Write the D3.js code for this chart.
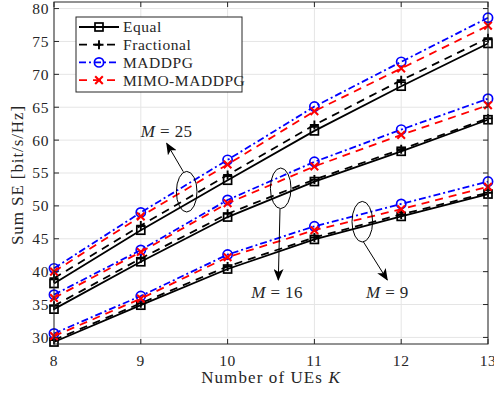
<!DOCTYPE html>
<html>
<head>
<meta charset="utf-8">
<script src="https://cdn.jsdelivr.net/npm/d3@7"></script>
<style>
  html, body { margin: 0; padding: 0; background: #fff; }
  svg { display: block; }
  text { font-family: "Liberation Serif", "DejaVu Serif", serif; fill: #262626; }
</style>
</head>
<body>
<svg id="chart" width="494" height="393"></svg>
<script>
// Number of UEs K
const numUEs = [8, 9, 10, 11, 12, 13];

// Sum SE [bit/s/Hz] for M = 25 antennas
const equalM25      = [38.2, 46.3, 53.9, 61.4, 68.2, 74.7];
const fractionalM25 = [39.0, 47.0, 54.7, 62.3, 69.1, 75.5];
const maddpgM25     = [40.5, 49.0, 57.0, 65.1, 71.9, 78.6];
const mimoM25       = [40.0, 48.4, 56.3, 64.4, 70.9, 77.4];

// M = 16
const equalM16      = [34.3, 41.5, 48.3, 53.7, 58.3, 63.1];
const fractionalM16 = [34.8, 42.0, 48.8, 54.0, 58.6, 63.3];
const maddpgM16     = [36.5, 43.3, 50.9, 56.7, 61.6, 66.3];
const mimoM16       = [36.0, 43.0, 50.4, 56.0, 60.8, 65.3];

// M = 9
const equalM9       = [29.3, 34.9, 40.4, 44.9, 48.4, 51.8];
const fractionalM9  = [29.6, 35.2, 40.8, 45.2, 48.7, 52.0];
const maddpgM9      = [30.6, 36.3, 42.6, 46.9, 50.3, 53.7];
const mimoM9        = [30.2, 35.9, 42.2, 46.3, 49.5, 52.9];

const yTicks = [30, 35, 40, 45, 50, 55, 60, 65, 70, 75, 80];
const legendNames = ["Equal", "Fractional", "MADDPG", "MIMO-MADDPG"];

(function () {
const svg = d3.select("#chart");
const pL = 54, pR = 488, pT = 2, pB = 344;

const x = d3.scaleLinear().domain([8, 13]).range([pL, pR]);
const y = d3.scaleLinear().domain([29, 81]).range([pB, pT]);

const axisColor = "#262626";

// grid
const grid = svg.append("g");
grid.selectAll("line.gx").data(numUEs).enter().append("line")
  .attr("x1", d => x(d)).attr("x2", d => x(d)).attr("y1", pT).attr("y2", pB)
  .attr("stroke", "#e5e5e5").attr("stroke-width", 1);
grid.selectAll("line.gy").data(yTicks).enter().append("line")
  .attr("x1", pL).attr("x2", pR).attr("y1", d => y(d)).attr("y2", d => y(d))
  .attr("stroke", "#e5e5e5").attr("stroke-width", 1);

// series styles
const styles = [
  { color: "#000000", dash: null,        marker: "square" },
  { color: "#000000", dash: "8,6",       marker: "plus" },
  { color: "#0000ff", dash: "7,3,2,3",   marker: "circle" },
  { color: "#ff0000", dash: "8,6",       marker: "cross" }
];

function drawMarker(g, type, cx, cy, color) {
  if (type === "square") {
    g.append("rect").attr("x", cx - 4).attr("y", cy - 4).attr("width", 8).attr("height", 8)
      .attr("fill", "none").attr("stroke", color).attr("stroke-width", 1.7);
  } else if (type === "plus") {
    g.append("path").attr("d", `M${cx-4.5},${cy}H${cx+4.5}M${cx},${cy-4.5}V${cy+4.5}`)
      .attr("stroke", color).attr("stroke-width", 1.9).attr("fill", "none");
  } else if (type === "circle") {
    g.append("circle").attr("cx", cx).attr("cy", cy).attr("r", 4.6)
      .attr("fill", "none").attr("stroke", color).attr("stroke-width", 1.7);
  } else if (type === "cross") {
    g.append("path").attr("d", `M${cx-3.8},${cy-3.8}L${cx+3.8},${cy+3.8}M${cx-3.8},${cy+3.8}L${cx+3.8},${cy-3.8}`)
      .attr("stroke", color).attr("stroke-width", 2.1).attr("fill", "none");
  }
}

const groups = [
  [equalM25, fractionalM25, maddpgM25, mimoM25],
  [equalM16, fractionalM16, maddpgM16, mimoM16],
  [equalM9,  fractionalM9,  maddpgM9,  mimoM9]
];

const line = d3.line().x((d, i) => x(numUEs[i])).y(d => y(d));
const plot = svg.append("g");
groups.forEach(group => {
  group.forEach((vals, si) => {
    const st = styles[si];
    plot.append("path").datum(vals).attr("d", line)
      .attr("fill", "none").attr("stroke", st.color).attr("stroke-width", 1.8)
      .attr("stroke-dasharray", st.dash);
    vals.forEach((v, i) => drawMarker(plot, st.marker, x(numUEs[i]), y(v), st.color));
  });
});

// axes box with inward ticks
const axes = svg.append("g");
axes.append("rect").attr("x", pL).attr("y", pT).attr("width", pR - pL).attr("height", pB - pT)
  .attr("fill", "none").attr("stroke", axisColor).attr("stroke-width", 1);
const tl = 5;
numUEs.forEach(k => {
  axes.append("line").attr("x1", x(k)).attr("x2", x(k)).attr("y1", pB).attr("y2", pB - tl).attr("stroke", axisColor);
  axes.append("line").attr("x1", x(k)).attr("x2", x(k)).attr("y1", pT).attr("y2", pT + tl).attr("stroke", axisColor);
  axes.append("text").attr("x", x(k)).attr("y", 366).attr("text-anchor", "middle")
    .attr("font-size", 15.5).attr("letter-spacing", 0.6).text(k);
});
yTicks.forEach(v => {
  axes.append("line").attr("x1", pL).attr("x2", pL + tl).attr("y1", y(v)).attr("y2", y(v)).attr("stroke", axisColor);
  axes.append("line").attr("x1", pR).attr("x2", pR - tl).attr("y1", y(v)).attr("y2", y(v)).attr("stroke", axisColor);
  axes.append("text").attr("x", 49).attr("y", y(v)).attr("dy", "0.35em").attr("text-anchor", "end")
    .attr("font-size", 15.5).attr("letter-spacing", 0.6).text(v);
});

// axis titles
const xt = svg.append("text").attr("x", 271).attr("y", 383).attr("text-anchor", "middle")
  .attr("font-size", 17).attr("letter-spacing", 1.1);
xt.append("tspan").text("Number of UEs ");
xt.append("tspan").attr("font-style", "italic").text("K");
svg.append("text").attr("transform", "translate(23,175) rotate(-90)").attr("text-anchor", "middle")
  .attr("font-size", 17).attr("letter-spacing", 0.9).text("Sum SE [bit/s/Hz]");

// legend
const lg = svg.append("g");
lg.append("rect").attr("x", 76).attr("y", 17).attr("width", 166).attr("height", 75)
  .attr("fill", "#fff").attr("stroke", axisColor).attr("stroke-width", 1);
legendNames.forEach((name, i) => {
  const ly = 27 + i * 17.7;
  const st = styles[i];
  lg.append("line").attr("x1", 79).attr("x2", 119).attr("y1", ly).attr("y2", ly)
    .attr("stroke", st.color).attr("stroke-width", 1.8).attr("stroke-dasharray", st.dash);
  drawMarker(lg, st.marker, 99, ly, st.color);
  lg.append("text").attr("x", 123).attr("y", ly).attr("dy", "0.35em")
    .attr("font-size", 15.5).attr("letter-spacing", 0.55).text(name);
});

// annotations: ellipses, arrows and antenna labels
const defs = svg.append("defs");
defs.append("marker").attr("id", "head").attr("viewBox", "0 0 12 10")
  .attr("refX", 11).attr("refY", 5).attr("markerWidth", 12).attr("markerHeight", 10)
  .attr("markerUnits", "userSpaceOnUse").attr("orient", "auto")
  .append("path").attr("d", "M0,0 L12,5 L0,10 L3,5 Z").attr("fill", "#000");

const annotations = [
  { label: "25", ex: 186.7, ey: 191.7, ax1: 183.3, ay1: 171.7, ax2: 166.7, ay2: 143.3, tx: 166.7, ty: 131 },
  { label: "16", ex: 280.7, ey: 188.3, ax1: 280,   ay1: 209,   ax2: 278.3, ay2: 280,   tx: 277,   ty: 292 },
  { label: "9",  ex: 362.3, ey: 221.7, ax1: 363.3, ay1: 241.7, ax2: 387.3, ay2: 280,   tx: 387.3, ty: 292 }
];
const ann = svg.append("g");
annotations.forEach(a => {
  ann.append("ellipse").attr("cx", a.ex).attr("cy", a.ey).attr("rx", 10.3).attr("ry", 20.3)
    .attr("fill", "none").attr("stroke", "#000").attr("stroke-width", 1);
  ann.append("line").attr("x1", a.ax1).attr("y1", a.ay1).attr("x2", a.ax2).attr("y2", a.ay2)
    .attr("stroke", "#000").attr("stroke-width", 1).attr("marker-end", "url(#head)");
  const t = ann.append("text").attr("x", a.tx).attr("y", a.ty).attr("dy", "0.35em")
    .attr("text-anchor", "middle").attr("font-size", 17).attr("letter-spacing", 0.4);
  t.append("tspan").attr("font-style", "italic").text("M");
  t.append("tspan").text(" = " + a.label);
});
})();
</script>
</body>
</html>
